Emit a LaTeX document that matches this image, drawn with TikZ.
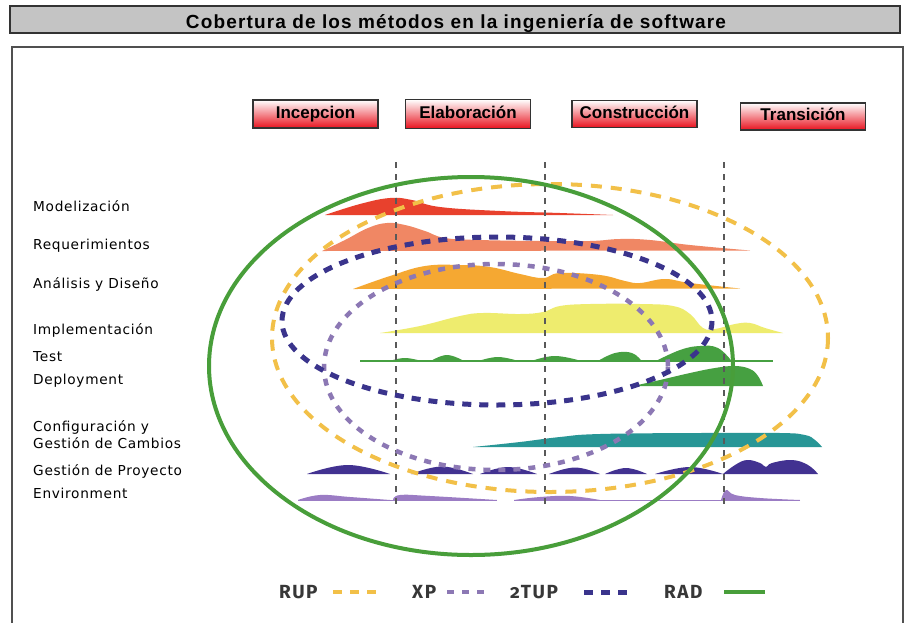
\documentclass[tikz,border=0pt]{standalone}
\usepackage{fontspec}
\setmainfont{DejaVu Sans}
\newfontfamily\labelfont{DejaVu Sans}[LetterSpace=5]
\newfontfamily\titlefont{Liberation Sans}[LetterSpace=6]
\newfontfamily\boxfont{Liberation Sans}
\newfontfamily\legendfont{Fira Sans}[Numbers=OldStyle,LetterSpace=8]
\definecolor{titlegray}{RGB}{196,196,196}
\definecolor{framecol}{RGB}{80,80,80}
\definecolor{boxred}{RGB}{232,18,30}
\definecolor{modcol}{RGB}{232,65,45}
\definecolor{reqcol}{RGB}{240,135,100}
\definecolor{anacol}{RGB}{245,168,50}
\definecolor{impcol}{RGB}{238,236,110}
\definecolor{testcol}{RGB}{70,160,65}
\definecolor{confcol}{RGB}{40,150,150}
\definecolor{projcol}{RGB}{66,50,145}
\definecolor{envcol}{RGB}{155,124,196}
\definecolor{rupcol}{RGB}{242,192,72}
\definecolor{xpcol}{RGB}{140,120,180}
\definecolor{tupcol}{RGB}{58,52,140}
\definecolor{radcol}{RGB}{72,158,58}
\definecolor{legtext}{RGB}{55,55,55}
\begin{document}
\begin{tikzpicture}[x=1pt,y=-1pt,
  lbl/.style={anchor=base west,inner sep=0pt,font=\labelfont\fontsize{13.7}{16}\selectfont},
  phase/.style={draw=black!80,line width=1.2pt,top color=white,bottom color=boxred,
    minimum width=125pt,minimum height=28pt,inner sep=0pt,text height=12pt,text depth=4pt,
    font=\boxfont\bfseries\fontsize{17}{20}\selectfont},
  phaseline/.style={draw=black!65,line width=1.3pt,dash pattern=on 6pt off 6pt},
  rup/.style={draw=rupcol,line width=4pt,dash pattern=on 11pt off 9pt},
  xp/.style={draw=xpcol,line width=4.5pt,dash pattern=on 7pt off 8pt},
  tup/.style={draw=tupcol,line width=5pt,dash pattern=on 9pt off 8pt},
  rad/.style={draw=radcol,line width=4pt},
  legend/.style={anchor=base west,inner sep=0pt,text=legtext,font=\legendfont\bfseries\fontsize{19}{22}\selectfont},
  hump/.style={smooth,tension=0.7}
]
\useasboundingbox (0,0) rectangle (906,622);
\fill[white] (0,0) rectangle (906,622);

% title bar
\node[draw=black!80,fill=titlegray,line width=1.5pt,minimum width=890pt,minimum height=27pt,inner sep=0pt] (bar) at (455,19.5) {};
\node[anchor=base,inner sep=0pt,font=\titlefont\bfseries\fontsize{19}{22}\selectfont] (title) at (456,28) {Cobertura de los métodos en la ingeniería de software};

% frame
\draw[framecol,line width=2pt] (12,640) -- (12,47) -- (903,47) -- (903,640);

% phases
\node[phase] (inc) at (315.5,114) {Incepcion};
\node[phase,minimum height=29pt] (ela) at (468,114) {Elaboración};
\node[phase,minimum height=27pt] (con) at (634.5,114) {Construcción};
\node[phase,minimum height=27pt] (tra) at (803,116.5) {Transición};

% disciplines
\node[lbl] (l1) at (33,211) {Modelización};
\node[lbl] (l2) at (33,249) {Requerimientos};
\node[lbl] (l3) at (33,288) {Análisis y Diseño};
\node[lbl] (l4) at (33,334) {Implementación};
\node[lbl] (l5) at (33,361) {Test};
\node[lbl] (l6) at (33,384) {Deployment};
\node[lbl] (l7) at (33,431) {Configuración y};
\node[lbl] (l8) at (33,448) {Gestión de Cambios};
\node[lbl] (l9) at (33,475) {Gestión de Proyecto};
\node[lbl] (l10) at (33,498) {Environment};

% humps
\fill[modcol] plot[hump] coordinates {(325,215) (360,204) (390,198) (412,200) (440,207) (500,211) (560,213) (613,215)} -- cycle;
\fill[reqcol] plot[hump] coordinates {(322,251) (345,240) (368,228) (387,223) (405,225) (425,231) (445,238) (480,240) (540,241) (590,241) (620,239) (650,240) (690,245) (750,250.5)} -- cycle;
\fill[anacol] plot[hump] coordinates {(353,289) (390,276) (425,266) (460,265) (490,267) (520,274) (543,278) (560,273) (600,275) (625,281) (640,283) (665,279) (690,283) (740,288.5)} -- cycle;
\fill[impcol] plot[hump] coordinates {(380,333) (420,326) (460,316) (483,313) (520,314) (543,312) (560,306) (590,304) (640,304) (673,306) (690,314) (703,328) (715,329) (735,324) (750,323) (765,328) (783,333)} -- cycle;
% test
\draw[testcol,line width=1.2pt] (360,361) -- (773,361);
\fill[testcol] plot[hump] coordinates {(388,361.5) (405,358) (423,361.5)} -- cycle;
\fill[testcol] plot[hump] coordinates {(430,361.5) (447,355) (465,361.5)} -- cycle;
\fill[testcol] plot[hump] coordinates {(477,361.5) (498,357) (520,361.5)} -- cycle;
\fill[testcol] plot[hump] coordinates {(530,361.5) (555,356) (583,361.5)} -- cycle;
\fill[testcol] plot[hump] coordinates {(597,361.5) (615,353) (632,353) (642,361.5)} -- cycle;
\fill[testcol] plot[hump] coordinates {(655,361.5) (680,350) (700,346) (718,348) (732,361.5)} -- cycle;
% deployment
\fill[testcol] plot[hump] coordinates {(633,386) (660,380) (690,373) (715,368) (735,366) (750,369) (758,376) (763,386)} -- cycle;
% configuration
\fill[confcol] plot[hump] coordinates {(473,447) (520,442) (560,437) (600,434) (700,433) (780,433) (805,435) (815,440) (822,447)} -- cycle;
% project
\fill[projcol] plot[hump] coordinates {(307,474) (348,465) (390,474)} -- cycle;
\fill[projcol] plot[hump] coordinates {(411,474) (442,466.5) (473,474)} -- cycle;
\fill[projcol] plot[hump] coordinates {(480,474) (508,467) (537,474)} -- cycle;
\fill[projcol] plot[hump] coordinates {(549,474) (575,467.5) (600,474)} -- cycle;
\fill[projcol] plot[hump] coordinates {(605,474) (626,468) (647,474)} -- cycle;
\fill[projcol] plot[hump] coordinates {(655,474) (690,467) (723,474)} -- cycle;
\fill[projcol] plot[hump] coordinates {(723,474) (735,465) (747,460) (760,463) (766,467) (772,463) (792,460) (808,465) (818,474)} -- cycle;
% environment
\draw[envcol,line width=1pt] (298,500) -- (497,500) (514,500) -- (800,500);
\fill[envcol] plot[hump] coordinates {(298,500) (320,495) (350,497) (390,500)} -- cycle;
\fill[envcol] plot[hump] coordinates {(393,500) (400,495) (430,496) (497,500)} -- cycle;
\fill[envcol] plot[hump] coordinates {(514,500) (540,497) (570,496) (600,500)} -- cycle;
\fill[envcol] plot[hump] coordinates {(721,500) (726,490) (735,495) (760,498) (800,500)} -- cycle;

% phase boundaries
\draw[phaseline] (396,162) -- (396,507);
\draw[phaseline] (545,162) -- (545,507);
\draw[phaseline] (724,162) -- (724,507);

% method coverage
\draw[rup] (550,338) ellipse [x radius=278, y radius=154];
\draw[xp] (496,367) ellipse [x radius=172, y radius=103];
\draw[tup] (497,321) ellipse [x radius=215, y radius=84];
\draw[rad] (471,366) ellipse [x radius=262, y radius=189];

% legend
\node[legend] (lrup) at (279,598) {RUP};
\draw[rup,dash pattern=on 9pt off 8pt] (333,592) -- (377,592);
\node[legend] (lxp) at (412,598) {XP};
\draw[xp] (447,592) -- (485,592);
\node[legend] (ltup) at (510,598) {2TUP};
\draw[tup] (584,592) -- (632,592);
\node[legend] (lrad) at (664,598) {RAD};
\draw[rad] (724,592) -- (765,592);
\end{tikzpicture}
\end{document}
